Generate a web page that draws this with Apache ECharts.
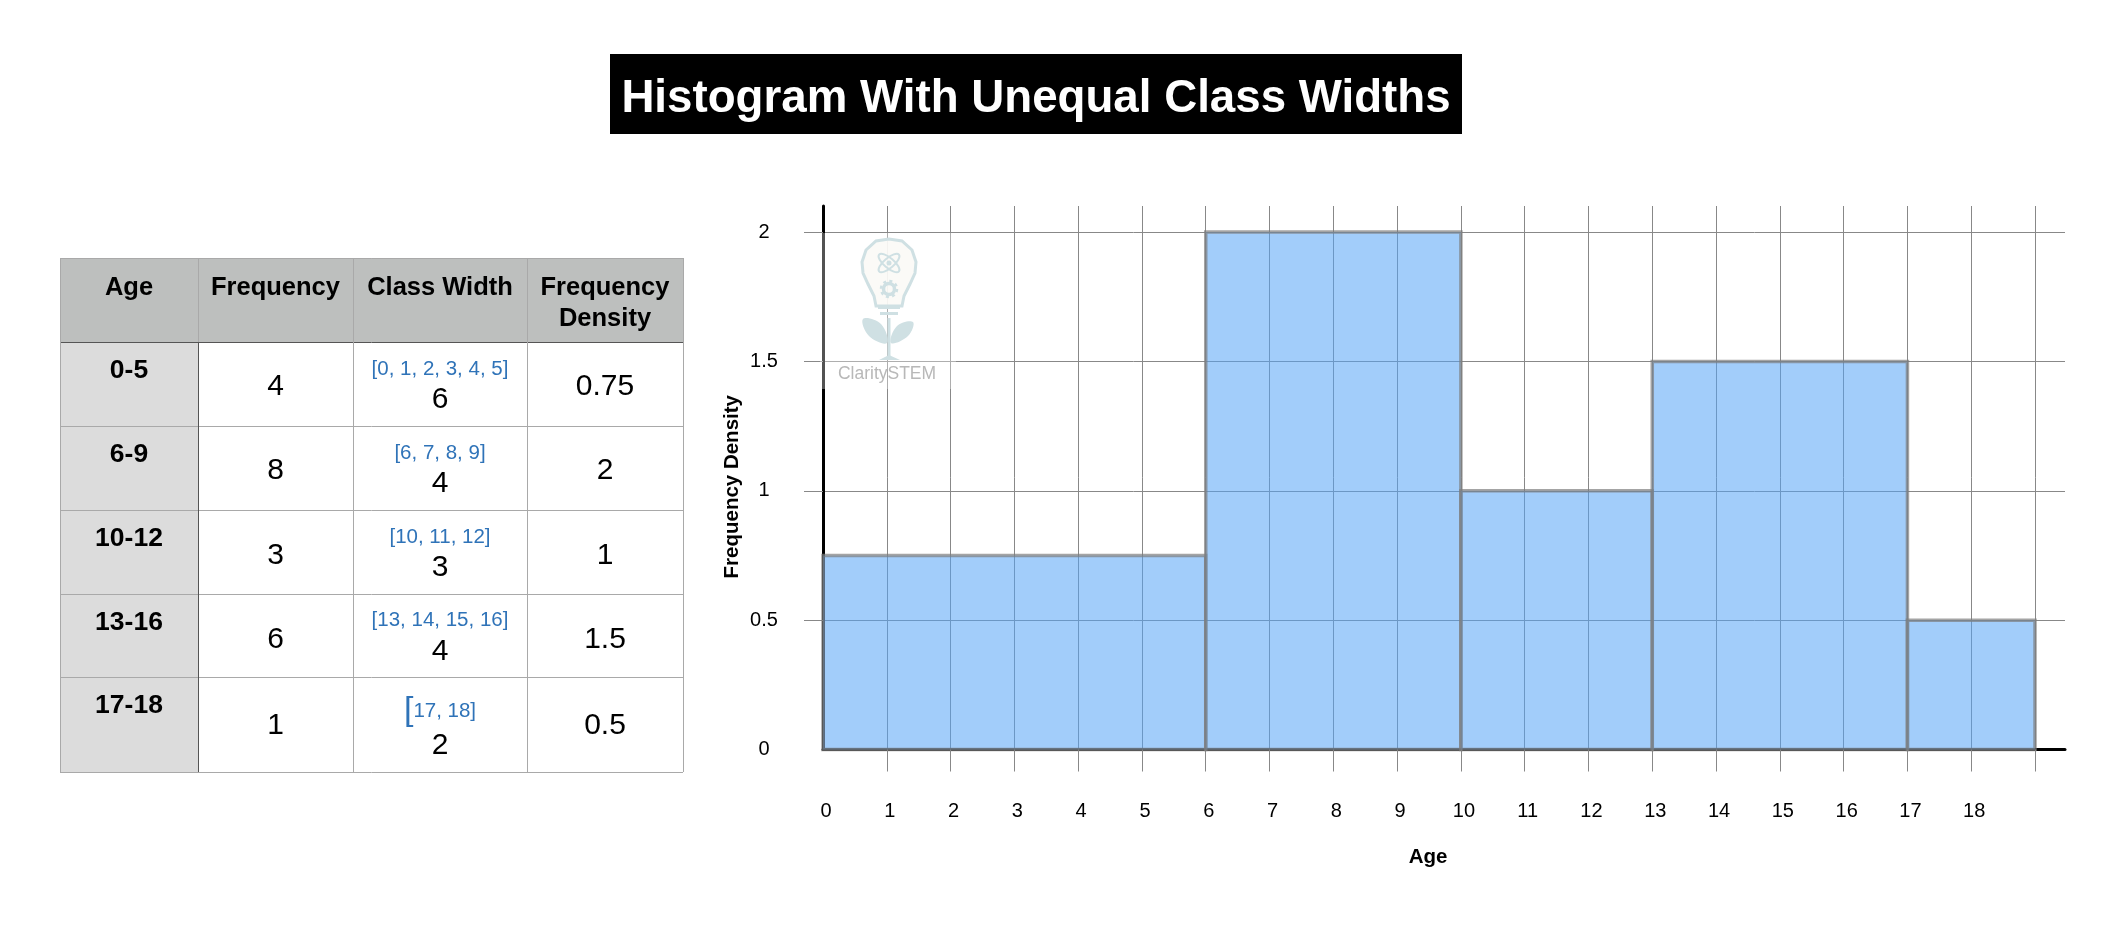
<!DOCTYPE html>
<html>
<head>
<meta charset="utf-8">
<title>Histogram With Unequal Class Widths</title>
<style>html,body{margin:0;padding:0;background:#fff}#chart{width:2120px;height:934px}</style>
<script src="https://cdn.jsdelivr.net/npm/echarts@6/dist/echarts.min.js"></script>
</head>
<body>
<div id="chart"></div>
<script>
// Class data
const ageClasses = ['0-5', '6-9', '10-12', '13-16', '17-18'];
const frequency = [4, 8, 3, 6, 1];
const classMembers = ['[0, 1, 2, 3, 4, 5]', '[6, 7, 8, 9]', '[10, 11, 12]', '[13, 14, 15, 16]', '[17, 18]'];
const classWidth = [6, 4, 3, 4, 2];
const densityLabels = ['0.75', '2', '1', '1.5', '0.5'];
const frequencyDensity = [0.75, 2, 1, 1.5, 0.5];
const classStart = [0, 6, 10, 13, 17];
const classEnd = [6, 10, 13, 17, 19];
const xTickLabels = [0, 1, 2, 3, 4, 5, 6, 7, 8, 9, 10, 11, 12, 13, 14, 15, 16, 17, 18];
const xTickMarks = [1, 2, 3, 4, 5, 6, 7, 8, 9, 10, 11, 12, 13, 14, 15, 16, 17, 18, 19];
const yTickLabels = [0, 0.5, 1, 1.5, 2];
const yTickMarks = [0.5, 1, 1.5, 2];
const headers = ['Age', 'Frequency', 'Class Width', 'Frequency\nDensity'];

const FONT = '"Liberation Sans", Arial, sans-serif';
const GRID_LINE = '#888888';
const TABLE_LINE = '#a9a9a9';
const TABLE_DARK = '#555555';

// Table layout
const colX = [60, 198, 353, 527, 683];
const rowY = [258, 342, 426, 510, 594, 677, 772];
const colMid = i => (colX[i] + colX[i + 1]) / 2;

function cellText(x, y, text, size, weight, color) {
  return {
    type: 'text', z: 10,
    style: { x, y, text, fill: color || '#000', font: `${weight || 'normal'} ${size}px ${FONT}`,
             align: 'center', verticalAlign: 'middle', lineHeight: 31 }
  };
}
function rule(x1, y1, x2, y2, color, w) {
  return { type: 'line', z: 9, shape: { x1, y1, x2, y2 }, style: { stroke: color, lineWidth: w || 1 } };
}

function buildTable() {
  const out = [];
  out.push({ type: 'rect', z: 8, shape: { x: colX[0], y: rowY[0], width: colX[4] - colX[0], height: rowY[1] - rowY[0] }, style: { fill: '#bdbfbe' } });
  out.push({ type: 'rect', z: 8, shape: { x: colX[0], y: rowY[1], width: colX[1] - colX[0], height: rowY[6] - rowY[1] }, style: { fill: '#dcdcdc' } });

  for (let r = 0; r < rowY.length; r++) {
    out.push(rule(colX[0], rowY[r] + .5, colX[4], rowY[r] + .5, r === 1 ? TABLE_DARK : TABLE_LINE));
  }
  for (let c = 0; c < colX.length; c++) {
    out.push(rule(colX[c] + .5, rowY[0], colX[c] + .5, rowY[6], TABLE_LINE));
  }
  out.push(rule(colX[1] + .5, rowY[1], colX[1] + .5, rowY[6], TABLE_DARK));

  headers.forEach((h, c) => out.push(cellText(colMid(c), c === 3 ? 303 : 288, h, 25.5, 'bold')));

  const ageY = [371, 455, 539, 623, 706];
  const freqY = [387, 471, 556, 640, 726];
  const memberY = [369, 453, 537, 620, 711];
  const widthY = [400, 484, 568, 652, 746];
  ageClasses.forEach((a, i) => {
    out.push(cellText(colMid(0), ageY[i], a, 26.5, 'bold'));
    out.push(cellText(colMid(1), freqY[i], String(frequency[i]), 30));
    out.push(cellText(colMid(2), widthY[i], String(classWidth[i]), 30));
    out.push(cellText(colMid(3), freqY[i], densityLabels[i], 30));
    if (i < 4) {
      out.push(cellText(colMid(2), memberY[i], classMembers[i], 20.5, 'normal', '#2f73b8'));
    } else {
      // The last bracket is set larger than the rest of its line
      out.push({
        type: 'text', z: 10,
        style: {
          x: colMid(2), y: memberY[i], align: 'center', verticalAlign: 'middle',
          text: '{big|' + classMembers[i][0] + '}{small|' + classMembers[i].slice(1) + '}',
          rich: {
            big: { font: `normal 34px ${FONT}`, fill: '#2f73b8', verticalAlign: 'middle' },
            small: { font: `normal 20.5px ${FONT}`, fill: '#2f73b8', verticalAlign: 'middle' }
          }
        }
      });
    }
  });
  return out;
}

// Light-bulb logo, drawn over the top-left of the plot
function buildLogo() {
  const c = '#cfe0e3';
  const z = 6;
  const bulbOutline = [[876, 306], [874, 296], [868, 284], [863, 273], [862, 262], [866, 250], [876, 241], [889, 239],
                       [902, 241], [912, 250], [916, 262], [915, 273], [910, 284], [904, 296], [902, 306]];
  const leaf = pts => ({ type: 'polygon', z, shape: { points: pts, smooth: 0.4 }, style: { fill: c } });
  return [
    { type: 'rect', z: z - 1, shape: { x: 820, y: 233, width: 136, height: 156 }, style: { fill: 'rgba(255,255,255,0.32)' } },
    { type: 'polygon', z, shape: { points: bulbOutline }, style: { fill: 'rgba(251,250,246,0.9)', stroke: c, lineWidth: 3 } },
    { type: 'ellipse', z, shape: { cx: 889, cy: 263, rx: 13, ry: 5 }, rotation: 0.7, originX: 889, originY: 263, style: { fill: 'none', stroke: c, lineWidth: 2 } },
    { type: 'ellipse', z, shape: { cx: 889, cy: 263, rx: 13, ry: 5 }, rotation: -0.7, originX: 889, originY: 263, style: { fill: 'none', stroke: c, lineWidth: 2 } },
    { type: 'circle', z, shape: { cx: 889, cy: 263, r: 2.5 }, style: { fill: c } },
    { type: 'circle', z, shape: { cx: 889, cy: 289, r: 5.5 }, style: { fill: 'none', stroke: c, lineWidth: 3.5 } },
    { type: 'circle', z, shape: { cx: 889, cy: 289, r: 8 }, style: { fill: 'none', stroke: c, lineWidth: 2.5, lineDash: [3, 3.3] } },
    { type: 'rect', z, shape: { x: 878, y: 306, width: 22, height: 3 }, style: { fill: c } },
    { type: 'rect', z, shape: { x: 880, y: 312, width: 18, height: 3 }, style: { fill: c } },
    { type: 'line', z, shape: { x1: 889, y1: 318, x2: 889, y2: 358 }, style: { stroke: c, lineWidth: 3 } },
    leaf([[887, 343], [869, 336], [863, 319], [881, 324]]),
    leaf([[891, 343], [908, 336], [913, 322], [897, 326]]),
    { type: 'polygon', z, shape: { points: [[879, 360], [889, 355], [900, 360]] }, style: { fill: c } },
    { type: 'text', z, style: { x: 887, y: 374, text: 'ClaritySTEM', fill: '#b8b8b8', font: `normal 17.5px ${FONT}`, align: 'center', verticalAlign: 'middle' } }
  ];
}

const titleBar = { type: 'rect', z: -1, shape: { x: 610, y: 54, width: 852, height: 80 }, style: { fill: '#000' } };

const bars = classStart.map((s, i) => [s, classEnd[i], frequencyDensity[i]]);

const chart = echarts.init(document.getElementById('chart'), null, { renderer: 'canvas' });
chart.setOption({
  animation: false,
  backgroundColor: '#fff',
  textStyle: { fontFamily: FONT },
  title: {
    text: 'Histogram With Unequal Class Widths',
    left: 1031, top: 71, textAlign: 'center', z: 5,
    textStyle: { color: '#fff', fontSize: 45.7, fontWeight: 'bold', fontFamily: FONT }
  },
  grid: { left: 823, top: 206, width: 1242, height: 543.5 },
  xAxis: {
    type: 'value', min: 0, max: 19.47, interval: 1,
    name: 'Age', nameLocation: 'middle', nameGap: 97,
    nameTextStyle: { color: '#000', fontSize: 20.5, fontWeight: 'bold', fontFamily: FONT, padding: [0, 32, 0, 0] },
    axisLine: { show: true, onZero: false, lineStyle: { color: '#000', width: 3 } },
    axisTick: { show: true, length: 22, customValues: xTickMarks, lineStyle: { color: GRID_LINE, width: 1 } },
    axisLabel: { customValues: xTickLabels, margin: 52, color: '#000', fontSize: 20, fontFamily: FONT, padding: [0, 0, 0, 6] },
    splitLine: { show: true, lineStyle: { color: GRID_LINE, width: 1 } }
  },
  yAxis: {
    type: 'value', min: 0, max: 2.1005, interval: 0.5,
    name: 'Frequency Density', nameLocation: 'middle', nameGap: 80, nameRotate: 90, nameMoveOverlap: false,
    nameTextStyle: { color: '#000', fontSize: 20.5, fontWeight: 'bold', fontFamily: FONT, padding: [0, 18, 0, 0] },
    axisLine: { show: true, lineStyle: { color: '#000', width: 3 } },
    axisTick: { show: true, length: 19, customValues: yTickMarks, lineStyle: { color: GRID_LINE, width: 1 } },
    axisLabel: { customValues: yTickLabels, margin: 59, align: 'center', color: '#000', fontSize: 20, fontFamily: FONT,
                 formatter: v => String(v) },
    splitLine: { show: true, lineStyle: { color: GRID_LINE, width: 1 } }
  },
  series: [{
    type: 'custom',
    coordinateSystem: 'cartesian2d',
    clip: false,
    encode: { x: [0, 1], y: 2 },
    data: bars,
    renderItem(params, api) {
      const a = api.coord([api.value(0), 0]);
      const b = api.coord([api.value(1), api.value(2)]);
      return {
        type: 'rect',
        shape: { x: a[0], y: b[1], width: b[0] - a[0], height: a[1] - b[1] },
        style: { fill: 'rgba(86,164,246,0.55)', stroke: 'rgba(125,125,125,0.7)', lineWidth: 3.5 }
      };
    }
  }],
  graphic: { elements: [titleBar, ...buildTable(), ...buildLogo()] }
});
</script>
</body>
</html>
